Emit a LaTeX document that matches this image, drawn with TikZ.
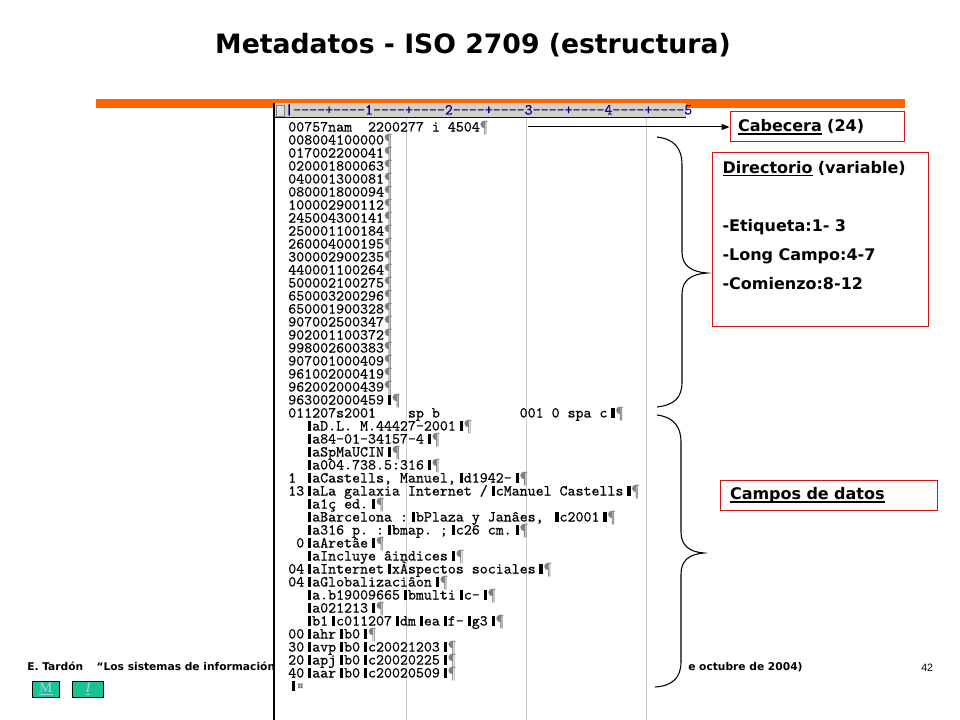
\documentclass[tikz,border=0pt]{standalone}
\usepackage{fontspec}
\usepackage{tikz}
\usetikzlibrary{arrows.meta}
\newfontfamily\vfont{DejaVu Sans}
\newfontfamily\afont{Liberation Sans}
\newfontfamily\tfont{Liberation Serif}
\newfontfamily\lfont{lmmono10-regular}[Extension=.otf,FakeBold=0.5]
\definecolor{barorange}{RGB}{255,102,0}
\definecolor{boxred}{RGB}{210,20,20}
\definecolor{rulergray}{RGB}{212,208,200}
\definecolor{rulerblue}{RGB}{0,0,150}
\definecolor{guidegray}{RGB}{205,205,205}
\definecolor{btngreen}{RGB}{26,196,146}
\definecolor{btnblue}{RGB}{175,205,235}
\newcommand{\sd}{\makebox[0.525em][r]{\rule[-0.4pt]{2.5pt}{7.6pt}\hspace{0.6pt}}}
\newcommand{\pf}{{\color{gray}¶}}
\newcommand{\ulx}[1]{\setbox0=\hbox{#1}\rlap{\rule[-2.4pt]{\wd0}{1.2pt}}\box0\relax}
\newcommand{\rd}{-\kern0pt}
\newcommand{\rseg}[1]{\rd\rd\rd\rd+\rd\rd\rd\rd#1}
\newcommand{\recfont}{\lfont\frenchspacing\fontsize{11.4}{9.75}\selectfont\lineskiplimit-100pt\relax}
\tikzstyle{rec}=[anchor=base west,inner sep=0pt,align=left,font=\recfont]
\tikzstyle{lbl}=[draw=boxred,line width=0.75pt,align=left,font=\vfont\bfseries\fontsize{12}{21.75}\selectfont]
\tikzstyle{foot}=[anchor=base west,inner sep=0pt,font=\vfont\bfseries\fontsize{8}{10}\selectfont]
\tikzstyle{btn}=[draw=black,fill=btngreen,line width=0.6pt,inner sep=0pt,font=\tfont\fontsize{11}{12}\selectfont,text=btnblue]

\begin{document}
\begin{tikzpicture}[x=0.75pt,y=-0.75pt]
\useasboundingbox (0,0) rectangle (960,720);
\node[font=\vfont\bfseries\fontsize{20}{24}\selectfont] at (473, 45) (title) {Metadatos - ISO 2709 (estructura)};
\fill[barorange] (96,99) rectangle (905,108);
\node[foot] at (27, 670) (autor) {E. Tardón\hspace{10pt}“Los sistemas de información};
\node[foot] at (688, 670) (fecha) {e octubre de 2004)};
\node[anchor=base west,inner sep=0pt,font=\afont\fontsize{8}{10}\selectfont] at (921, 671) (pag) {42};
\node[btn,minimum width=20pt,minimum height=12pt] at (46, 689) (bm) {\underline{M}};
\node[btn,minimum width=23pt,minimum height=12pt] at (88, 689) (bi) {\underline{\itshape I}};
\fill[white] (274,103) rectangle (686,720);
\fill[rulergray] (274,103) rectangle (686,118);
\draw[rulerblue,line width=0.75pt] (274,118) -- (686,118);
\draw[gray,fill=gray!25] (276,105) rectangle (284,116);
\draw[guidegray,line width=0.75pt] (406,118) -- (406,720);
\draw[guidegray,line width=0.75pt] (526,118) -- (526,720);
\draw[guidegray,line width=0.75pt] (646,118) -- (646,720);
\draw[black,line width=1.5pt] (274,103) -- (274,720);
\node[rec,text=rulerblue] at (285, 114.5) (regla) {|\rseg1\rseg2\rseg3\rseg4\rseg5};
\node[rec] at (288, 690.5) (registro) {00757nam\ \ 2200277 i 4504\pf\\
008004100000\pf\\
017002200041\pf\\
020001800063\pf\\
040001300081\pf\\
080001800094\pf\\
100002900112\pf\\
245004300141\pf\\
250001100184\pf\\
260004000195\pf\\
300002900235\pf\\
440001100264\pf\\
500002100275\pf\\
650003200296\pf\\
650001900328\pf\\
907002500347\pf\\
902001100372\pf\\
998002600383\pf\\
907001000409\pf\\
961002000419\pf\\
962002000439\pf\\
963002000459\sd\pf\\
011207s2001\ \ \ \ sp b\ \ \ \ \ \ \ \ \ \ 001 0 spa c\sd\pf\\
\ \ \sd aD.L. M.44427-2001\sd\pf\\
\ \ \sd a84-01-34157-4\sd\pf\\
\ \ \sd aSpMaUCIN\sd\pf\\
\ \ \sd a004.738.5:316\sd\pf\\
1\ \sd aCastells, Manuel,\sd d1942-\sd\pf\\
13\sd aLa galaxia Internet /\sd cManuel Castells\sd\pf\\
\ \ \sd a1ç ed.\sd\pf\\
\ \ \sd aBarcelona :\sd bPlaza y Janâes, \sd c2001\sd\pf\\
\ \ \sd a316 p. :\sd bmap. ;\sd c26 cm.\sd\pf\\
\ 0\sd aAretâe\sd\pf\\
\ \ \sd aIncluye âindices\sd\pf\\
04\sd aInternet\sd xÀspectos sociales\sd\pf\\
04\sd aGlobalizaciâon\sd\pf\\
\ \ \sd a.b19009665\sd bmulti\sd c-\sd\pf\\
\ \ \sd a021213\sd\pf\\
\ \ \sd b1\sd c011207\sd dm\sd ea\sd f-\sd g3\sd\pf\\
00\sd ahr\sd b0\sd\pf\\
30\sd avp\sd b0\sd c20021203\sd\pf\\
20\sd apj\sd b0\sd c20020225\sd\pf\\
40\sd aar\sd b0\sd c20020509\sd\pf\\
\sd{\color{gray}¤}};
\coordinate (lead) at (528, 127);
\node[lbl,text width=118.5pt,inner xsep=6pt,minimum height=22.5pt] at (817, 127) (cab) {\ulx{Cabecera} (24)};
\node[lbl,anchor=north west,text width=147pt,inner xsep=7.5pt,minimum height=130.5pt] at (712, 152) (dir) {\ulx{Directorio} (variable)\\[21.75pt] -Etiqueta:1- 3\\ -Long Campo:4-7\\ -Comienzo:8-12\\ \mbox{}};
\node[lbl,text width=147.75pt,inner xsep=7.5pt,minimum height=22.5pt] at (828.5, 495) (campos) {\ulx{Campos de datos}};
\draw[-{Triangle[length=6pt,width=4.5pt]},line width=0.75pt] (lead) -- (lead -| cab.west);
\draw[line width=0.8pt] (657,137) .. controls (674,139) and (682,148) .. (682,165) -- (682,252) .. controls (682,266) and (692,272) .. (707,273) .. controls (692,274) and (682,280) .. (682,294) -- (682,382) .. controls (682,398) and (674,405) .. (657,407);
\draw[line width=0.8pt] (657,415) .. controls (673,417) and (681,426) .. (681,442) -- (681,532) .. controls (681,546) and (690,552) .. (704,553) .. controls (690,554) and (681,560) .. (681,574) -- (681,662) .. controls (681,678) and (672,686) .. (655,687);
\end{tikzpicture}
\end{document}
